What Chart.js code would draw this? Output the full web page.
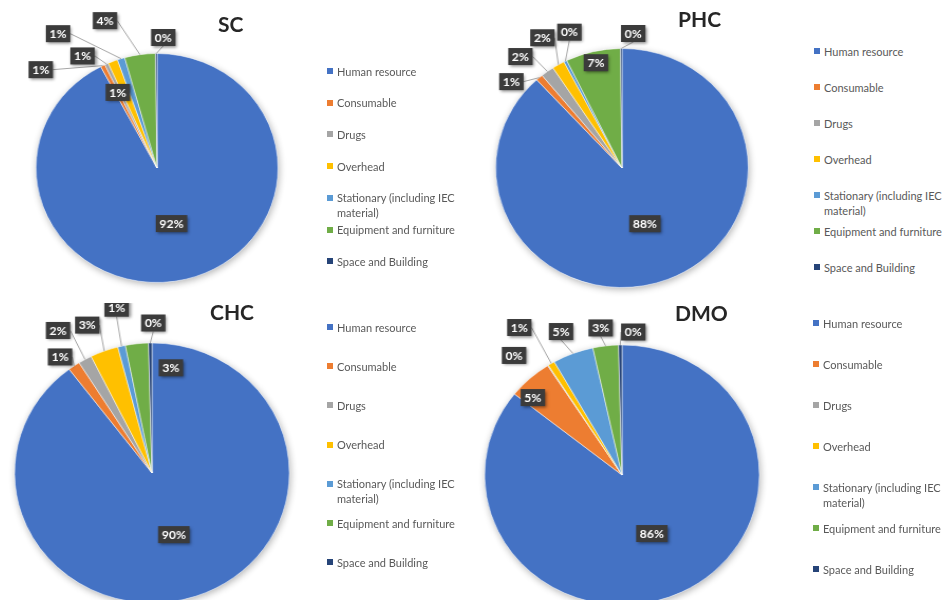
<!DOCTYPE html>
<html>
<head>
<meta charset="utf-8">
<script src="https://cdn.jsdelivr.net/npm/chart.js@4.4.1/dist/chart.umd.min.js"></script>
<style>
  html, body { margin: 0; padding: 0; background: #fff; width: 950px; height: 600px; overflow: hidden; }
  body { position: relative; font-family: Lato, "Open Sans", sans-serif; }
  canvas { position: absolute; transform: scaleX(1.057); transform-origin: 50% 50%; }
  .title { position: absolute; font: bold 21px Lato, sans-serif; color: #262626; line-height: 24px; }
  .leg { position: absolute; font-size: 11px; color: #595959; line-height: 15px; }
  .leg .sw { position: absolute; left: 0; top: 4.5px; width: 6px; height: 6px; }
  .leg .tx { position: absolute; left: 10px; top: 0; width: 130px; }
</style>
</head>
<body>
<script>
const categories = ['Human resource', 'Consumable', 'Drugs', 'Overhead',
  'Stationary (including IEC material)', 'Equipment and furniture', 'Space and Building'];
const colors = ['#4472C4', '#ED7D31', '#A5A5A5', '#FFC000', '#5B9BD5', '#70AD47', '#264478'];

// percent share of each cost head, per facility level
const scValues  = [92.3, 0.6, 0.5, 1.3, 1.0, 4.1, 0.2];
const phcValues = [88.2, 0.9, 1.7, 1.6, 0.4, 7.0, 0.2];
const chcValues = [89.7, 1.4, 1.6, 3.3, 0.9, 2.7, 0.4];
const dmoValues = [85.7, 5.2, 0.1, 0.8, 4.8, 3.0, 0.4];

// where each data label sits: r = inside at fraction of radius, dx/dy = offset from slice edge
const scLabels  = [{r: 0.5}, {dx: -62, dy: 4}, {dx: -24, dy: -8}, {dx: 5, dy: 31, line: false},
  {dx: -63, dy: -25}, {dx: -35, dy: -34}, {dx: 7, dy: -16}];
const phcLabels = [{r: 0.5}, {dx: -28, dy: 4}, {dx: -27, dy: -15}, {dx: -16, dy: -27},
  {dx: 4, dy: -29}, {dx: 3, dy: 11, line: false}, {dx: 12, dy: -15}];
const chcLabels = [{r: 0.5}, {dx: -14, dy: -9}, {dx: -27, dy: -29}, {dx: -17, dy: -26},
  {dx: -5, dy: -38}, {dx: 34, dy: 24, line: false}, {dx: 3, dy: -20}];
const dmoLabels = [{r: 0.5}, {dx: 3, dy: 19, line: false}, {dx: -34, dy: -10, line: false}, {dx: -32, dy: -36},
  {dx: -12, dy: -22}, {dx: -5, dy: -18}, {dx: 13, dy: -13}];

const SX = 1.057;   // the original picture is a little wider than tall
const SIZE = 340;

const pctLabels = {
  id: 'pctLabels',
  beforeDatasetsDraw(chart) {
    const arc = chart.getDatasetMeta(0).data[0];
    const ctx = chart.ctx;
    ctx.save();
    ctx.shadowColor = 'rgba(0,0,0,0.3)';
    ctx.shadowBlur = 7;
    ctx.shadowOffsetX = 1;
    ctx.shadowOffsetY = 2;
    ctx.fillStyle = '#fff';
    ctx.beginPath();
    ctx.arc(arc.x, arc.y, arc.outerRadius, 0, Math.PI * 2);
    ctx.fill();
    ctx.restore();
  },
  afterDatasetsDraw(chart, args, opts) {
    const ctx = chart.ctx;
    const values = chart.data.datasets[0].data;
    const total = values.reduce((a, b) => a + b, 0);
    ctx.save();
    ctx.font = 'bold 11.5px Lato';
    chart.getDatasetMeta(0).data.forEach((arc, i) => {
      const p = opts.place[i];
      const mid = (arc.startAngle + arc.endAngle) / 2;
      const c = Math.cos(mid), s = Math.sin(mid);
      const ax = arc.x + c * arc.outerRadius, ay = arc.y + s * arc.outerRadius;
      let lx, ly;
      if (p.r !== undefined) {
        lx = arc.x + c * arc.outerRadius * p.r;
        ly = arc.y + s * arc.outerRadius * p.r;
      } else {
        lx = ax + p.dx / SX;
        ly = ay + p.dy;
      }
      const text = Math.round(values[i] / total * 100 + 1e-6) + '%';
      const w = ctx.measureText(text).width + 7, h = 17;
      const left = lx - w / 2, top = ly - h / 2;
      if (p.dx !== undefined && p.line !== false) {
        let sx, sy;
        if (ax < left) { sx = left; sy = ly; }
        else if (ax > left + w) { sx = left + w; sy = ly; }
        else if (ay > top + h) { sx = lx; sy = top + h; }
        else { sx = lx; sy = top; }
        ctx.strokeStyle = '#a6a6a6';
        ctx.lineWidth = 1;
        ctx.beginPath();
        ctx.moveTo(sx, sy);
        ctx.lineTo(ax, ay);
        ctx.stroke();
      }
      ctx.save();
      ctx.shadowColor = 'rgba(0,0,0,0.45)';
      ctx.shadowBlur = 3;
      ctx.shadowOffsetX = 1.5;
      ctx.shadowOffsetY = 1.5;
      ctx.fillStyle = '#3b3b3b';
      ctx.fillRect(left, top, w, h);
      ctx.restore();
      ctx.fillStyle = '#fff';
      ctx.textAlign = 'center';
      ctx.textBaseline = 'middle';
      ctx.fillText(text, lx, ly + 0.5);
    });
    ctx.restore();
  }
};

const pies = [
  {title: 'SC',  values: scValues,  place: scLabels,  cx: 157,   cy: 167.5, r: 114.5, tx: 218, ty: 23.5, lx: 327, ly: 71,  step: 31.7},
  {title: 'PHC', values: phcValues, place: phcLabels, cx: 621.5, cy: 167.5, r: 119.5, tx: 678, ty: 19,   lx: 814, ly: 51,  step: 36},
  {title: 'CHC', values: chcValues, place: chcLabels, cx: 151.5, cy: 473,   r: 130,   tx: 210, ty: 311.5, lx: 327, ly: 327, step: 39.2},
  {title: 'DMO', values: dmoValues, place: dmoLabels, cx: 621.5, cy: 475,   r: 130,   tx: 675, ty: 312.5, lx: 813, ly: 323, step: 41}
];

pies.forEach(p => {
  const cv = document.createElement('canvas');
  cv.width = SIZE;
  cv.height = SIZE;
  cv.style.left = (p.cx - SIZE / 2) + 'px';
  cv.style.top = (p.cy - SIZE / 2) + 'px';
  document.body.appendChild(cv);

  new Chart(cv, {
    type: 'pie',
    data: {
      labels: categories,
      datasets: [{
        data: p.values,
        backgroundColor: colors,
        borderColor: '#fff',
        borderWidth: 0.5,
        radius: p.r
      }]
    },
    options: {
      responsive: false,
      animation: false,
      events: [],
      plugins: {
        legend: {display: false},
        tooltip: {enabled: false},
        pctLabels: {place: p.place}
      }
    },
    plugins: [pctLabels]
  });

  const t = document.createElement('div');
  t.className = 'title';
  t.textContent = p.title;
  t.style.left = p.tx + 'px';
  t.style.top = (p.ty - 12) + 'px';
  document.body.appendChild(t);

  categories.forEach((name, i) => {
    const item = document.createElement('div');
    item.className = 'leg';
    item.style.left = p.lx + 'px';
    item.style.top = (p.ly + i * p.step - 7.5) + 'px';
    item.innerHTML = '<span class="sw" style="background:' + colors[i] + '"></span><span class="tx"></span>';
    item.querySelector('.tx').textContent = name;
    document.body.appendChild(item);
  });
});
</script>
</body>
</html>
